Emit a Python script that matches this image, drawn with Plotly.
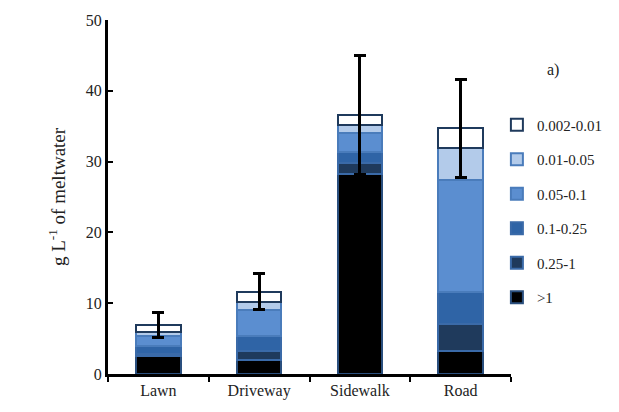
import plotly.graph_objects as go

# Sites and particle-size fractions (mm)
sites = ["Lawn", "Driveway", "Sidewalk", "Road"]
fractions = [">1", "0.25-1", "0.1-0.25", "0.05-0.1", "0.01-0.05", "0.002-0.01"]

# Sediment concentration per fraction, g L-1 (bottom to top of each stack)
gt1 = [2.5, 2.0, 28.2, 3.2]
f025_1 = [0.3, 1.3, 1.6, 3.8]
f01_025 = [1.2, 2.1, 1.5, 4.6]
f005_01 = [1.3, 3.7, 2.8, 15.8]
f001_005 = [0.7, 1.0, 1.0, 4.5]
f0002_001 = [0.9, 1.5, 1.5, 2.8]

# Error on total concentration
total_err = [1.8, 2.55, 8.4, 6.9]

series = [gt1, f025_1, f01_025, f005_01, f001_005, f0002_001]
fills = ["#000000", "#1F3A5C", "#2F64A6", "#5B8ED0", "#B3CBEA", "#FFFFFF"]
edges = ["#2A4F7E", "#3A6AA8", "#3A6AA8", "#4A7CBB", "#4A7CBB", "#1F3A5C"]

fig = go.Figure()
n = len(series)
for i, (name, vals) in enumerate(zip(fractions, series)):
    kw = {}
    if i == n - 1:
        kw["error_y"] = dict(type="data", array=total_err, visible=True,
                             color="#000000", thickness=3, width=6)
    fig.add_trace(go.Bar(
        x=sites, y=vals, name=name, legendgroup=name, legendrank=n - i,
        marker=dict(color=fills[i], line=dict(color=edges[i], width=2)),
        **kw,
    ))

serif = "Liberation Serif, Times New Roman, serif"
fig.update_layout(
    width=619, height=412,
    margin=dict(l=108, r=102, t=19, b=36),
    barmode="stack", bargap=0.56,
    plot_bgcolor="white", paper_bgcolor="white",
    font=dict(family=serif, size=15, color="#222222"),
    legend=dict(
        traceorder="grouped", tracegroupgap=12,
        x=0.965, y=0.75, xanchor="left", yanchor="top",
        font=dict(family=serif, size=15, color="#222222"),
        itemwidth=30, bgcolor="rgba(0,0,0,0)",
    ),
    annotations=[dict(text="a)", x=1.125, y=0.89, xref="paper", yref="paper",
                      showarrow=False, font=dict(family=serif, size=16, color="#222222"))],
)
fig.update_yaxes(
    range=[0, 50], dtick=10, showgrid=False, zeroline=False,
    showline=True, linecolor="#000000", linewidth=3,
    ticks="inside", ticklen=5, tickwidth=2, tickcolor="#000000",
    tickfont=dict(family=serif, size=16),
    title=dict(text="g L<sup>-1</sup> of meltwater", font=dict(family=serif, size=19), standoff=16),
)
fig.update_xaxes(
    showline=True, linecolor="#000000", linewidth=3,
    ticks="outside", tickson="boundaries", ticklen=5, tickwidth=2, tickcolor="#000000",
    tickfont=dict(family=serif, size=16),
    showgrid=False,
)

fig.write_html("out.html")
